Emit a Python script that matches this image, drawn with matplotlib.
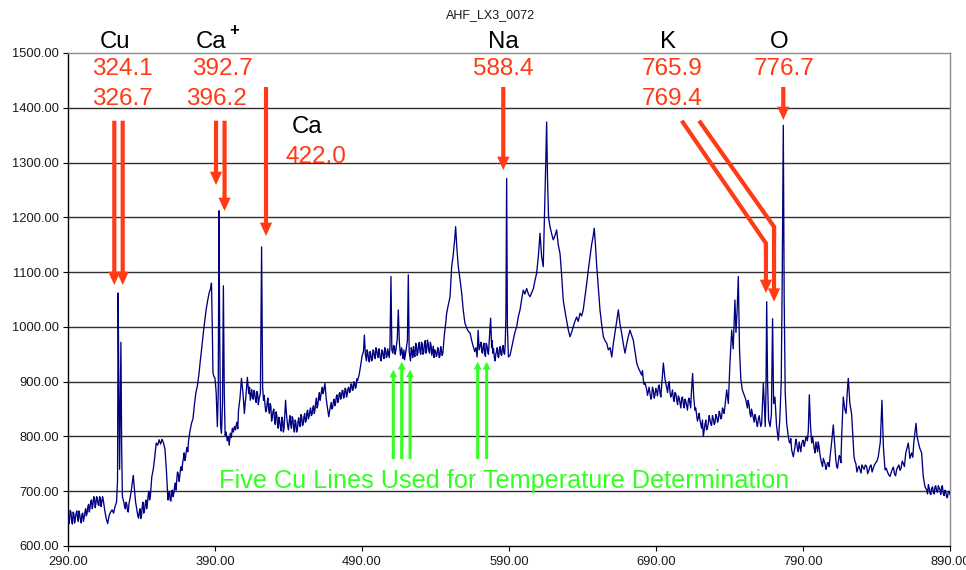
import matplotlib
matplotlib.use("Agg")
import matplotlib.pyplot as plt

plt.rcParams['font.family'] = ['Liberation Sans', 'DejaVu Sans']

chart_title = "AHF_LX3_0072"
x_ticks = [290, 390, 490, 590, 690, 790, 890]
y_ticks = [600, 700, 800, 900, 1000, 1100, 1200, 1300, 1400, 1500]

# (wavelength nm, intensity)
spectrum_points = [
    (290, 655), (291, 648), (292, 662), (293, 640), (294, 658), (295, 650), (296, 664), (297, 645),
    (298, 657), (299, 642), (300, 660), (301, 652), (302, 668), (303, 660), (304, 676), (305, 670),
    (306, 684), (307, 676), (308, 688), (309, 678), (310, 686), (311, 674), (312, 688), (313, 680),
    (314, 684), (315, 665), (316, 650), (317, 641), (318, 656), (319, 662), (320, 666), (321, 660),
    (322, 672), (323, 680), (323.7, 720), (324.1, 1062), (324.6, 880), (325.1, 740), (325.6, 860),
    (326.0, 972), (326.5, 780), (327.0, 690),
    (328, 680), (329, 668), (330, 676), (331, 662), (332, 684), (333, 700), (334.4, 729), (335.3, 700),
    (336, 680), (337, 664), (338, 651), (339, 668), (340, 656), (341, 680), (342, 664), (343, 684),
    (344, 676), (345, 700), (346, 690), (347, 726), (348, 740), (349, 762), (350, 788), (351, 784),
    (352, 794), (353, 786), (354, 795), (355, 788), (356, 776), (357, 735), (358, 684), (359, 700),
    (360, 682), (361, 702), (362, 697), (363, 715), (364, 722), (365, 732), (366, 726), (367, 745),
    (368, 752), (369, 770), (370, 762), (371, 780), (372, 792), (373, 810), (374, 824), (375, 832),
    (376, 858), (377, 880), (378, 892), (379, 912), (380, 938), (381, 962), (382, 988), (383, 1010),
    (384, 1032), (385, 1048), (386, 1062), (387, 1070), (387.6, 1080), (388.1, 1010), (388.6, 916),
    (389.2, 910), (390, 906), (390.8, 880), (391.6, 818), (392.2, 880), (392.7, 1212), (393.2, 980),
    (393.8, 820), (394.4, 806), (395.1, 860), (395.7, 1075), (396.3, 880), (396.9, 802), (397.6, 808),
    (398.3, 792), (399, 800), (399.7, 784), (400.4, 806), (401.1, 798), (401.8, 815), (402.5, 808),
    (403.2, 818), (404, 812), (405, 826), (406, 848), (407, 870), (408, 906), (409, 880), (410, 842),
    (411, 872), (412, 908), (413, 878), (414, 866), (415, 886), (416, 868), (417, 880), (418, 862),
    (419, 878), (420, 868), (420.9, 880), (421.7, 1146), (422.4, 890), (423, 866), (424, 858),
    (425, 848), (426, 870), (427, 842), (428, 856), (429, 836), (430, 850), (431, 822), (432, 840),
    (433, 815), (434, 828), (435, 810), (436, 830), (437, 815), (438, 866), (439, 830), (440, 812),
    (441, 838), (442, 815), (443, 832), (444, 808), (445, 826), (446, 812), (447, 834), (448, 818),
    (449, 836), (450, 822), (451, 842), (452, 828), (453, 848), (454, 836), (455, 852), (456, 840),
    (457, 856), (458, 848), (459, 870), (460, 858), (461, 880), (462, 874), (463, 890), (464, 884),
    (464.8, 897), (465.6, 870), (466.5, 852), (467.4, 836), (468.2, 850), (469, 862), (470, 852),
    (471, 868), (472, 860), (473, 876), (474, 866), (475, 880), (476, 872), (477, 884), (478, 874),
    (479, 886), (480, 878), (481, 890), (482, 882), (483, 895), (484, 886), (485, 898), (486, 890),
    (487, 902), (488, 912), (489, 928), (490, 946), (491, 955), (491.6, 985), (492.3, 950), (493, 938),
    (494, 952), (495, 936), (496, 950), (497, 940), (498, 956), (499, 942), (500, 958), (501, 944),
    (502, 952), (503, 938), (504, 956), (505, 942), (506, 958), (507, 946), (508, 952), (509, 962),
    (509.7, 1092), (510.3, 958), (511, 952), (512, 964), (513, 956), (514, 978), (514.7, 1031),
    (515.4, 972), (516.2, 948), (517, 962), (518, 942), (519, 940), (520, 958), (520.9, 975),
    (521.5, 1095), (522.1, 955), (523, 938), (524, 955), (525, 964), (526, 946), (527, 968), (528, 952),
    (529, 972), (530, 950), (531, 968), (532, 954), (533, 975), (534, 958), (535, 970), (536, 952),
    (537, 966), (538, 956), (539, 944), (540, 956), (541, 948), (542, 958), (543, 946), (544, 958),
    (545, 952), (546, 985), (547, 1008), (547.6, 1025), (548.7, 1040), (549.9, 1055), (551, 1110),
    (552, 1130), (553, 1158), (553.7, 1183), (554.5, 1145), (555.5, 1110), (556.6, 1088), (557.8, 1062),
    (558.9, 1030), (560, 1007), (561.2, 998), (562.3, 992), (563.5, 989), (564.6, 975), (565.7, 964),
    (566.7, 955), (567.5, 962), (568.3, 945), (569, 994), (569.7, 958), (570.5, 968), (571.5, 954),
    (572.5, 966), (573.5, 950), (574.5, 970), (575.5, 956), (576.5, 972), (577.5, 1016), (578.2, 962),
    (579, 952), (580, 944), (580.6, 938), (581.5, 955), (582.5, 946), (583.5, 960), (584.5, 950),
    (585.5, 962), (586.5, 952), (587.4, 966), (587.9, 1020), (588.4, 1271), (588.9, 1000), (589.6, 945),
    (590.7, 948), (591.8, 962), (592.9, 976), (594, 990), (595.2, 1000), (596.3, 1018), (597.5, 1031),
    (598.6, 1050), (599.7, 1067), (600.8, 1060), (602, 1070), (603.2, 1060), (604.3, 1055),
    (605.5, 1063), (606.6, 1070), (607.7, 1085), (608.8, 1098), (610, 1130), (611.1, 1171),
    (612.2, 1128), (613.3, 1110), (614.4, 1232), (615.0, 1300), (615.6, 1374), (616.2, 1270),
    (616.9, 1200), (617.9, 1183), (619, 1170), (620.1, 1159), (621.2, 1166), (622.4, 1177),
    (623.5, 1150), (624.7, 1134), (625.8, 1095), (626.9, 1049), (628, 1030), (629.2, 1012),
    (630.3, 995), (631.5, 982), (632.6, 990), (633.7, 1000), (634.8, 1010), (636, 1018), (637.1, 1010),
    (638.3, 1025), (639.4, 1020), (640.5, 1031), (641.7, 1055), (642.9, 1080), (644, 1105),
    (645.1, 1128), (646.2, 1150), (647.2, 1165), (648, 1180), (648.8, 1150), (649.7, 1110),
    (650.8, 1070), (651.9, 1031), (653, 1005), (654.2, 982), (655.3, 975), (656.5, 970), (657.6, 958),
    (658.8, 962), (659.9, 945), (661, 970), (662.1, 990), (663.2, 1010), (664.4, 1031), (665.5, 1005),
    (666.6, 989), (667.7, 970), (668.9, 952), (670, 968), (671.1, 982), (672.3, 994), (673.4, 985),
    (674.6, 975), (675.7, 955), (676.9, 934), (678, 925), (679.2, 918), (680.3, 912), (681.4, 903),
    (682.5, 898), (683.7, 885), (684.8, 882), (685.9, 879), (687, 872), (688.2, 884), (689.3, 876),
    (690.5, 882), (691.6, 890), (692.7, 880), (693.9, 895), (695, 934), (696.1, 905), (697.3, 888),
    (698.4, 895), (699.5, 882), (700.6, 876), (701.8, 870), (702.9, 880), (704.1, 866), (705.2, 874),
    (706.3, 862), (707.5, 870), (708.6, 860), (709.7, 868), (710.9, 855), (712, 866), (713.1, 860),
    (714, 876), (714.9, 915), (715.7, 870), (716.5, 848), (717.6, 840), (718.8, 835), (719.9, 830),
    (721, 815), (722.2, 800), (723.3, 822), (724.4, 812), (725.6, 825), (726.7, 830), (727.8, 820),
    (729, 832), (730.1, 825), (731.3, 836), (732.4, 830), (733.5, 842), (734.7, 836), (735.8, 848),
    (736.9, 855), (738.1, 885), (739.2, 860), (740.3, 934), (741.5, 994), (742.5, 960), (743.7, 1049),
    (744.4, 990), (745.2, 1030), (746, 1092), (746.8, 960), (747.7, 905), (748.7, 885), (749.7, 878),
    (750.5, 872), (751.6, 860), (752.7, 866), (753.9, 842), (755, 850), (756.2, 835), (757.3, 840),
    (758.5, 824), (759.6, 832), (760.8, 826), (761.9, 824), (763, 897), (763.7, 860), (764.3, 818),
    (764.8, 880), (765.3, 1046), (765.9, 900), (766.6, 830), (767.6, 818), (768.5, 840), (769.3, 1015),
    (770, 860), (770.9, 872), (772, 820), (773.2, 793), (774.2, 830), (775.2, 900), (775.9, 1100),
    (776.6, 1368), (777.2, 1050), (777.9, 880), (778.9, 824), (780, 800), (781.2, 788), (782.3, 775),
    (783.4, 763), (784.5, 780), (785.7, 788), (786.8, 772), (788, 780), (789.1, 786), (790.2, 793),
    (791.3, 788), (792.5, 800), (793.6, 810), (794.3, 876), (795.1, 820), (795.9, 788), (797, 790),
    (798.2, 770), (799.3, 782), (800.4, 790), (801.5, 768), (802.7, 751), (803.8, 760), (805, 750),
    (806.1, 745), (807.2, 752), (808.4, 763), (809.5, 790), (810.6, 821), (811.7, 780), (812.9, 745),
    (814, 752), (815.2, 763), (816.3, 800), (817.4, 872), (818.4, 850), (819.3, 842), (820.1, 880),
    (820.8, 906), (821.9, 860), (823.1, 840), (824.7, 763), (826, 750), (827.4, 742), (828.8, 739),
    (830.1, 748), (831.6, 740), (833.3, 745), (834.8, 738), (836.3, 748), (837.8, 742), (839.5, 752),
    (841.2, 763), (842.6, 790), (843.7, 866), (844.7, 780), (845.8, 739), (847.5, 735), (849.2, 727),
    (850.7, 740), (852.2, 732), (853.7, 740), (855.2, 748), (856.7, 742), (858.2, 751), (859.9, 770),
    (861.6, 788), (862.7, 760), (863.9, 770), (865.4, 790), (866.9, 824), (867.6, 800), (868.4, 790),
    (869.5, 778), (870.7, 770), (871.8, 727), (873, 708), (874.2, 702), (875.3, 712), (876.4, 696),
    (877.5, 705), (878.7, 698), (879.8, 708), (880.9, 700), (882.1, 710), (883.2, 702), (884.3, 708),
    (885.4, 696), (886.6, 702), (887.7, 690), (888.8, 698), (890, 694),
]

# extra readings of the fine noise between the points above
spectrum_detail_points = [
    (290.5, 640), (291.5, 665), (292.5, 646), (293.5, 662), (294.5, 642), (295.5, 660), (296.5, 652),
    (297.5, 664), (298.5, 648), (299.5, 658), (300.5, 645), (301.5, 662), (302.5, 655), (303.5, 672),
    (304.5, 662), (305.5, 682), (306.5, 668), (307.5, 690), (308.5, 670), (309.5, 690), (310.5, 676),
    (311.5, 690), (312.5, 672), (313.5, 690),
    (328.5, 672), (329.5, 680), (330.5, 664), (331.5, 678), (336.5, 672), (337.5, 655), (338.5, 662),
    (339.5, 650), (340.5, 672), (341.5, 660), (342.5, 676), (343.5, 668), (344.5, 692), (345.5, 684),
    (358.5, 694), (359.5, 684), (360.5, 700), (361.5, 690), (362.5, 708), (363.5, 702), (364.5, 735),
    (365.5, 718), (366.5, 740), (367.5, 738), (368.5, 760), (369.5, 756), (370.5, 774), (371.5, 772),
    (404.5, 822), (405.5, 814), (410.5, 860), (413.5, 890), (414.5, 876), (415.5, 870), (416.5, 884),
    (417.5, 866), (418.5, 882), (419.5, 858), (423.5, 875), (424.5, 845), (425.5, 862), (426.5, 850),
    (427.5, 860), (428.5, 828), (429.5, 846), (430.5, 830), (431.5, 845), (432.5, 824), (433.5, 835),
    (434.5, 818), (435.5, 835), (436.5, 808), (437.5, 842), (438.5, 845), (439.5, 818), (440.5, 828),
    (441.5, 822), (442.5, 836), (443.5, 816), (444.5, 830), (445.5, 808), (446.5, 828), (447.5, 820),
    (448.5, 840), (449.5, 820), (450.5, 836), (451.5, 826), (452.5, 844), (453.5, 832), (454.5, 846),
    (455.5, 838), (456.5, 852), (457.5, 842), (458.5, 862), (459.5, 852), (460.5, 872), (461.5, 866),
    (462.5, 884), (463.5, 878),
    (469.5, 850), (470.5, 864), (471.5, 856), (472.5, 872), (473.5, 862), (474.5, 878), (475.5, 868),
    (476.5, 884), (477.5, 870), (478.5, 888), (479.5, 872), (480.5, 888), (481.5, 880), (482.5, 896),
    (483.5, 884), (484.5, 900), (485.5, 888), (486.5, 905),
    (493.5, 958), (494.5, 940), (495.5, 955), (496.5, 938), (497.5, 958), (498.5, 945), (499.5, 962),
    (500.5, 948), (501.5, 960), (502.5, 942), (503.5, 958), (504.5, 945), (505.5, 962), (506.5, 944),
    (507.5, 960), (508.5, 944), (511.5, 966), (512.5, 950), (513.5, 968), (517.5, 950), (518.5, 958),
    (523.5, 962), (524.5, 944), (525.5, 950), (526.5, 970), (527.5, 948), (528.5, 966), (529.5, 954),
    (530.5, 972), (531.5, 950), (532.5, 970), (533.5, 952), (534.5, 976), (535.5, 955), (536.5, 972),
    (537.5, 948), (538.5, 965), (539.5, 958), (540.5, 946), (541.5, 962), (542.5, 944), (543.5, 964),
    (544.5, 948),
    (571, 972), (572, 952), (573, 970), (574, 946), (575, 966), (576, 950), (578.6, 975), (579.5, 960),
    (581, 950), (582, 962), (583, 944), (584, 964), (585, 948), (586, 966), (587, 950),
    (680.8, 920), (681.9, 895), (683.1, 892), (684.2, 875), (685.3, 890), (686.5, 868), (687.6, 890),
    (688.8, 870), (689.9, 888), (691, 874), (692.2, 894), (693.3, 872), (697.9, 880), (699, 900),
    (700, 872), (701.2, 885), (702.3, 864), (703.5, 878), (704.7, 858), (705.8, 870), (706.9, 852),
    (708, 872), (709.2, 852), (710.3, 864), (711.4, 848), (712.5, 870), (713.6, 852), (717, 852),
    (718.2, 828), (719.3, 842), (720.5, 822), (721.6, 830), (722.7, 810), (723.9, 830), (725, 815),
    (726.2, 838), (727.3, 822), (728.4, 838), (729.6, 822), (730.7, 840), (731.9, 826), (733, 846),
    (734.1, 832), (735.2, 852), (736.3, 842),
    (751, 868), (752.2, 852), (753.3, 858), (754.5, 836), (755.6, 842), (756.8, 826), (757.9, 834),
    (759, 818), (760.2, 838), (761.3, 818),
    (780.6, 790), (781.7, 796), (782.9, 768), (784, 772), (785.1, 795), (786.2, 778), (787.4, 790),
    (788.5, 772), (789.7, 792), (790.8, 782), (791.9, 798), (793, 792), (796.5, 800), (797.6, 778),
    (798.8, 790), (799.9, 772), (801, 780), (802.1, 758), (803.3, 745), (804.4, 755), (805.6, 740),
    (806.7, 752), (807.8, 745), (812.3, 758), (813.5, 742), (814.6, 765), (815.8, 752), (825.3, 755),
    (826.7, 735), (828.1, 746), (829.5, 733), (830.8, 744), (832.4, 748), (834, 732), (835.5, 745),
    (837, 735), (838.6, 748), (840.3, 755), (846.6, 742), (848.3, 730), (850, 734), (851.5, 744),
    (853, 728), (854.5, 744), (856, 738), (857.5, 755), (859, 745), (860.7, 778), (862.2, 775),
    (864.7, 762), (874.7, 695), (875.9, 705), (877, 694), (878.1, 708), (879.2, 695), (880.3, 710),
    (881.5, 698), (882.6, 706), (883.7, 694), (884.8, 710), (886, 692), (887.1, 700), (888.2, 688),
    (889.4, 700),
]

all_points = sorted(spectrum_points + spectrum_detail_points)
wavelength_nm = [p[0] for p in all_points]
intensity = [p[1] for p in all_points]

# element labels (x, baseline y in data units)
element_names = ["Cu", "Ca", "Ca", "Na", "K", "O"]
element_x = [322.2, 387.1, 452.7, 586.5, 698.2, 773.7]
element_y = [1508.5, 1508.5, 1353.4, 1508.5, 1508.5, 1508.5]
ion_sign = "+"
ion_sign_xy = (402.9, 1532.3)

line_values = ["324.1", "326.7", "392.7", "396.2", "422.0", "588.4", "765.9", "769.4", "776.7"]
line_value_x = [326.9, 326.9, 395.1, 390.8, 459.0, 585.9, 701.2, 701.2, 777.1]
line_value_y = [1459.8, 1405.0, 1459.8, 1405.0, 1298.6, 1459.8, 1459.8, 1405.0, 1459.8]

# red arrows: tail -> tip
red_arrow_x = [321.5, 327.2, 390.7, 396.5, 424.7, 586.1, 776.6]
red_arrow_tail_y = [1376.4, 1376.4, 1376.4, 1376.4, 1437.9, 1437.9, 1437.9]
red_arrow_tip_y = [1076.4, 1076.4, 1259.0, 1211.5, 1166.0, 1286.4, 1377.7]
# bent K arrows: start, bend, tip
k_arrow_start = [(707.5, 1376.4), (719.3, 1376.4)]
k_arrow_bend = [(764.8, 1152.6), (770.3, 1182.9)]
k_arrow_tip_y = [1061.8, 1046.0]

green_arrow_x = [511.3, 517.0, 522.7, 568.7, 574.8]
green_arrow_tail_y = [758.8, 758.8, 758.8, 758.8, 758.8]
green_arrow_tip_y = [922.0, 936.4, 922.0, 936.4, 936.4]
green_caption = "Five Cu Lines Used for Temperature Determination"
green_caption_xy = (586.6, 705.3)

RED = '#ff3a14'
GREEN = '#33ff22'
NAVY = '#000080'

fig = plt.figure(figsize=(9.66, 5.70), dpi=100)
ax = fig.add_axes([68 / 966, 24 / 570, 882 / 966, 493 / 570])

ax.set_xlim(290, 890)
ax.set_ylim(600, 1500)
ax.set_xticks(x_ticks)
ax.set_yticks(y_ticks)
ax.set_xticklabels([f"{v:.2f}" for v in x_ticks])
ax.set_yticklabels([f"{v:.2f}" for v in y_ticks])
ax.tick_params(axis='both', direction='out', length=3.5, width=0.8, labelsize=9.3,
               labelcolor='#1a1a1a', color='#000000')
ax.tick_params(axis='y', pad=3)
ax.tick_params(axis='x', pad=4)

for v in y_ticks[1:-1]:
    ax.axhline(v, color='#303030', lw=1.0, zorder=1)

ax.spines['left'].set_color('black')
ax.spines['bottom'].set_color('black')
ax.spines['top'].set_color('#8c8c8c')
ax.spines['right'].set_color('#8c8c8c')
for s in ax.spines.values():
    s.set_linewidth(1.0)

ax.plot(wavelength_nm, intensity, color=NAVY, lw=0.95, zorder=3)

fig.text(491 / 966, 1 - 18.3 / 570, chart_title, ha='center', va='baseline',
         fontsize=9, color='#1a1a1a')


def draw_arrow(tail, tip, color, tw, hw, hl):
    ax.annotate('', xy=tip, xytext=tail, annotation_clip=False,
                arrowprops=dict(arrowstyle=f'simple,head_length={hl},head_width={hw},tail_width={tw}',
                                mutation_scale=1, fc=color, ec='none', lw=0,
                                shrinkA=0, shrinkB=0),
                zorder=5)


for x, y0, y1 in zip(red_arrow_x, red_arrow_tail_y, red_arrow_tip_y):
    draw_arrow((x, y0), (x, y1), RED, 3.0, 8.8, 9.6)

for (sx, sy), (bx, by), ty in zip(k_arrow_start, k_arrow_bend, k_arrow_tip_y):
    ax.plot([sx, bx, bx], [sy, by, by - 20], color=RED, lw=3.0, solid_joinstyle='miter',
            solid_capstyle='butt', clip_on=False, zorder=5)
    draw_arrow((bx, by), (bx, ty), RED, 3.0, 8.8, 9.6)

for x, y0, y1 in zip(green_arrow_x, green_arrow_tail_y, green_arrow_tip_y):
    draw_arrow((x, y0), (x, y1), GREEN, 2.2, 5.6, 5.6)

for name, x, y in zip(element_names, element_x, element_y):
    ax.text(x, y, name, ha='center', va='baseline', fontsize=17.3, color='black',
            clip_on=False, zorder=6)
ax.text(ion_sign_xy[0], ion_sign_xy[1], ion_sign, ha='center', va='baseline', fontsize=12,
        fontweight='bold', color='black', clip_on=False, zorder=6)

for s, x, y in zip(line_values, line_value_x, line_value_y):
    ax.text(x, y, s, ha='center', va='baseline', fontsize=17.5, color=RED,
            clip_on=False, zorder=6)

ax.text(green_caption_xy[0], green_caption_xy[1], green_caption, ha='center', va='baseline',
        fontsize=18.2, color=GREEN, clip_on=False, zorder=6)

fig.savefig('out.png', dpi=100)
